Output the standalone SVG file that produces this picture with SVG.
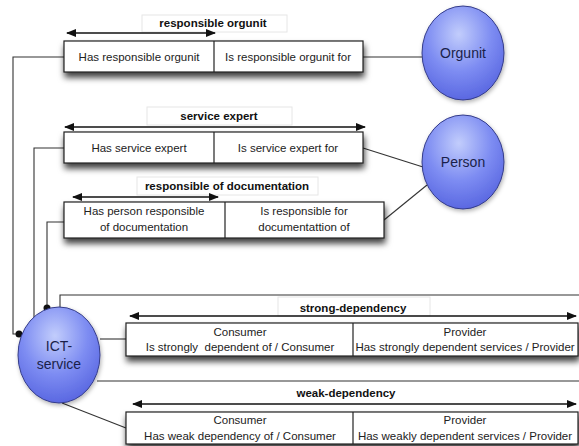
<svg xmlns="http://www.w3.org/2000/svg" width="579" height="446" viewBox="0 0 579 446">
  <style>
    text { font-family: "Liberation Sans", Arial, sans-serif; fill: #222; }
    .cell { font-size: 11.5px; text-anchor: middle; }
    .lbl { font-size: 11.5px; font-weight: bold; text-anchor: middle; fill: #111; }
    .node { font-size: 14px; text-anchor: middle; fill: #1a1f4a; }
    .box { fill: #fff; stroke: #222; stroke-width: 1.2; }
    .div { stroke: #222; stroke-width: 1.2; }
    .lblbox { fill: #fff; stroke: #e6e6e6; stroke-width: 1; }
    .conn { fill: none; stroke: #333; stroke-width: 1.1; }
    .arr { stroke: #111; stroke-width: 1.6; marker-start: url(#ah-start); marker-end: url(#ah-end); }
    .circ { fill: url(#blue); stroke: #343c8a; stroke-width: 1; }
  </style>
  <defs>
    <radialGradient id="blue" cx="0.45" cy="0.3" r="0.8">
      <stop offset="0" stop-color="#c2cdfc"/>
      <stop offset="0.5" stop-color="#7d8cf2"/>
      <stop offset="1" stop-color="#4f5cdc"/>
    </radialGradient>
    <filter id="shadow" x="-10%" y="-30%" width="125%" height="180%">
      <feDropShadow dx="1" dy="5" stdDeviation="3" flood-color="#000" flood-opacity="0.75"/>
    </filter>
    <filter id="cshadow" x="-20%" y="-20%" width="140%" height="140%">
      <feDropShadow dx="1" dy="2" stdDeviation="2" flood-color="#000" flood-opacity="0.3"/>
    </filter>
    <marker id="ah-end" markerWidth="10" markerHeight="8" refX="9" refY="4" orient="auto" markerUnits="userSpaceOnUse">
      <path d="M0,0 L10,4 L0,8 Z" fill="#111"/>
    </marker>
    <marker id="ah-start" markerWidth="10" markerHeight="8" refX="1" refY="4" orient="auto" markerUnits="userSpaceOnUse">
      <path d="M10,0 L0,4 L10,8 Z" fill="#111"/>
    </marker>
  </defs>

  <!-- connectors -->
  <g id="connectors">
    <polyline class="conn" points="64,57 13,57 13,334 19,334"/>
    <polyline class="conn" points="64,148 34,148 34,322"/>
    <polyline class="conn" points="64,222 47,222 47,308"/>
    <line class="conn" x1="363" y1="57" x2="422" y2="57"/>
    <line class="conn" x1="363" y1="148" x2="423" y2="167"/>
    <line class="conn" x1="384" y1="220" x2="427" y2="185"/>
    <polyline class="conn" points="60,309 60,295 579,295"/>
    <line class="conn" x1="100" y1="339" x2="126" y2="339"/>
    <line class="conn" x1="97" y1="381" x2="579" y2="381"/>
    <line class="conn" x1="62" y1="403" x2="126" y2="428"/>
    <circle cx="47" cy="308" r="3.5" fill="#111"/>
    <circle cx="19" cy="334" r="3.5" fill="#111"/>
  </g>

  <!-- relation: responsible orgunit -->
  <g id="rel-orgunit">
    <rect class="lblbox" x="142" y="15" width="145" height="17"/>
    <text class="lbl" x="213" y="27">responsible orgunit</text>
    <line class="arr" x1="67" y1="33" x2="215" y2="33"/>
    <rect class="box" x="64" y="41" width="299" height="31" filter="url(#shadow)"/>
    <line class="div" x1="214" y1="41" x2="214" y2="72"/>
    <text class="cell" x="139" y="61">Has responsible orgunit</text>
    <text class="cell" x="288" y="61">Is responsible orgunit for</text>
  </g>

  <!-- relation: service expert -->
  <g id="rel-expert">
    <rect class="lblbox" x="147" y="107" width="145" height="18"/>
    <text class="lbl" x="219" y="120">service expert</text>
    <line class="arr" x1="65" y1="127" x2="365" y2="127"/>
    <rect class="box" x="64" y="132" width="299" height="31" filter="url(#shadow)"/>
    <line class="div" x1="214" y1="132" x2="214" y2="163"/>
    <text class="cell" x="139" y="152">Has service expert</text>
    <text class="cell" x="288" y="152">Is service expert for</text>
  </g>

  <!-- relation: responsible of documentation -->
  <g id="rel-doc">
    <rect class="lblbox" x="137" y="177" width="181" height="18"/>
    <text class="lbl" x="227" y="190">responsible of documentation</text>
    <line class="arr" x1="73" y1="197" x2="218" y2="197"/>
    <rect class="box" x="64" y="202" width="320" height="36" filter="url(#shadow)"/>
    <line class="div" x1="225" y1="202" x2="225" y2="238"/>
    <text class="cell" x="144" y="215">Has person responsible</text>
    <text class="cell" x="144" y="231">of documentation</text>
    <text class="cell" x="304" y="215">Is responsible for</text>
    <text class="cell" x="304" y="231">documentattion of</text>
  </g>

  <!-- relation: strong-dependency -->
  <g id="rel-strong">
    <rect class="lblbox" x="278" y="297" width="152" height="19"/>
    <text class="lbl" x="353" y="312">strong-dependency</text>
    <line class="arr" x1="130" y1="316" x2="576" y2="316"/>
    <rect class="box" x="126" y="323" width="452" height="33" filter="url(#shadow)"/>
    <line class="div" x1="353" y1="323" x2="353" y2="356"/>
    <text class="cell" x="240" y="336">Consumer</text>
    <text class="cell" x="240" y="351" xml:space="preserve">Is strongly  dependent of / Consumer</text>
    <text class="cell" x="465" y="336">Provider</text>
    <text class="cell" x="465" y="351">Has strongly dependent services / Provider</text>
  </g>

  <!-- relation: weak-dependency -->
  <g id="rel-weak">
    <text class="lbl" x="346" y="397">weak-dependency</text>
    <line class="arr" x1="133" y1="404" x2="576" y2="404"/>
    <rect class="box" x="126" y="412" width="452" height="32" filter="url(#shadow)"/>
    <line class="div" x1="353" y1="412" x2="353" y2="444"/>
    <text class="cell" x="240" y="424">Consumer</text>
    <text class="cell" x="240" y="440">Has weak dependency of / Consumer</text>
    <text class="cell" x="465" y="424">Provider</text>
    <text class="cell" x="465" y="440">Has weakly dependent services / Provider</text>
  </g>

  <!-- entity nodes -->
  <g id="orgunit">
    <ellipse class="circ" cx="463" cy="53" rx="41" ry="47" filter="url(#cshadow)"/>
    <text class="node" x="463" y="58">Orgunit</text>
  </g>
  <g id="person">
    <ellipse class="circ" cx="463" cy="162" rx="41" ry="47" filter="url(#cshadow)"/>
    <text class="node" x="463" y="167">Person</text>
  </g>
  <g id="ict-service">
    <ellipse class="circ" cx="59" cy="355" rx="41" ry="48" filter="url(#cshadow)"/>
    <text class="node" x="59" y="351">ICT-</text>
    <text class="node" x="59" y="369">service</text>
  </g>
</svg>
